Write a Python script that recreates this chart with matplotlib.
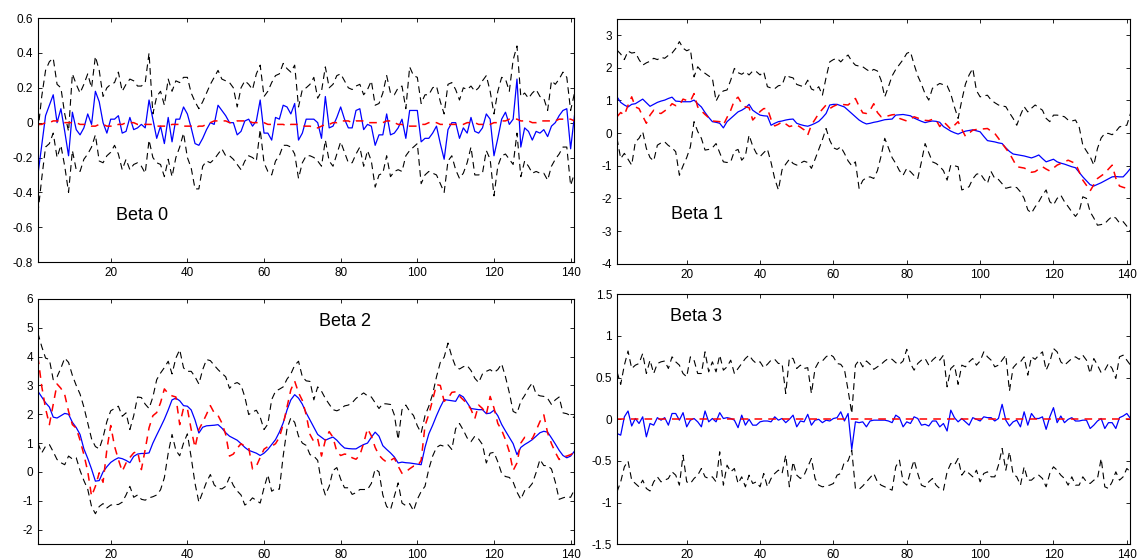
import numpy as np
import matplotlib
matplotlib.use("Agg")
import matplotlib.pyplot as plt
from matplotlib.ticker import FuncFormatter

plt.rcParams['font.family'] = ['Liberation Sans', 'DejaVu Sans']
plt.rcParams['axes.unicode_minus'] = False

# ---- Beta 0 ----
b0_mid = [-0.30, -0.13, 0.04, 0.10, 0.16, 0.00, 0.08, -0.05, -0.19, 0.06,
          -0.04, -0.07, -0.03, 0.05, -0.01, 0.18, 0.12, 0.00, -0.06, 0.02,
          0.02, 0.04, -0.06, -0.05, 0.03, -0.04, -0.03, -0.01, -0.03, 0.13,
          0.02, -0.09, -0.02, -0.12, 0.03, -0.11, 0.02, 0.02, 0.09, 0.05,
          -0.03, -0.12, -0.13, -0.09, -0.04, 0.00, -0.01, 0.10, 0.07, 0.04,
          0.00, 0.00, -0.07, -0.05, 0.01, 0.02, -0.02, 0.01, 0.13, -0.06,
          -0.06, -0.10, 0.03, 0.02, 0.10, 0.09, 0.05, 0.11, -0.10, -0.06,
          0.02, 0.02, 0.02, 0.00, -0.09, 0.15, -0.03, -0.02, 0.03, 0.09,
          0.02, -0.03, -0.03, 0.07, 0.08, -0.04, -0.01, -0.02, -0.13, -0.07,
          -0.07, 0.05, -0.07, -0.06, -0.03, 0.02, -0.09, 0.07, 0.07, 0.07,
          -0.11, -0.09, -0.09, -0.06, -0.02, -0.12, -0.21, -0.04, 0.00, 0.00,
          -0.09, -0.03, -0.06, 0.03, -0.05, -0.06, -0.03, 0.05, 0.02, -0.19,
          -0.09, 0.02, 0.06, -0.01, 0.02, 0.25, -0.14, -0.03, -0.05, -0.10,
          -0.05, -0.06, -0.04, -0.08, -0.02, 0.00, 0.04, 0.07, 0.08, -0.15,
          0.04]
b0_true = [-0.01, -0.01, 0.00, 0.00, 0.01, 0.01, 0.01, 0.00, 0.00, 0.00,
           0.00, -0.01, -0.01, -0.01, -0.02, -0.02, -0.01, -0.01, -0.02, -0.02,
           -0.02, -0.01, -0.01, 0.00, 0.00, 0.00, -0.01, -0.01, -0.01, -0.01,
           -0.01, -0.02, -0.02, -0.02, -0.02, -0.01, -0.01, -0.01, -0.02, -0.02,
           -0.02, -0.03, -0.02, -0.02, -0.01, 0.00, 0.01, 0.01, 0.01, 0.01,
           0.00, 0.00, 0.01, 0.01, 0.01, 0.01, 0.00, 0.00, 0.00, 0.00,
           -0.01, -0.01, -0.01, -0.01, -0.01, -0.02, -0.01, -0.01, -0.01, -0.02,
           -0.02, -0.02, -0.03, -0.03, -0.02, -0.01, -0.01, 0.00, 0.00, 0.01,
           0.01, 0.01, 0.00, 0.01, 0.01, 0.01, 0.00, 0.00, 0.00, 0.00,
           0.00, 0.01, 0.01, 0.00, -0.01, -0.01, -0.02, -0.02, -0.02, -0.02,
           -0.01, -0.01, 0.00, 0.00, 0.00, -0.01, -0.01, -0.01, -0.01, -0.01,
           -0.01, -0.01, 0.00, 0.00, 0.00, -0.01, -0.01, -0.01, -0.01, 0.00,
           0.00, 0.01, 0.01, 0.02, 0.02, 0.02, 0.01, 0.01, 0.01, 0.00,
           0.00, 0.01, 0.01, 0.01, 0.01, 0.01, 0.02, 0.02, 0.02, 0.02,
           0.01]
b0_hi = [-0.05, 0.15, 0.30, 0.35, 0.37, 0.22, 0.20, 0.05, -0.05, 0.28,
         0.22, 0.17, 0.22, 0.28, 0.20, 0.38, 0.30, 0.15, 0.20, 0.22,
         0.23, 0.29, 0.18, 0.22, 0.25, 0.24, 0.21, 0.21, 0.23, 0.40,
         0.05, 0.15, 0.18, 0.10, 0.25, 0.18, 0.24, 0.23, 0.26, 0.26,
         0.17, 0.12, 0.08, 0.12, 0.17, 0.22, 0.26, 0.30, 0.25, 0.24,
         0.23, 0.20, 0.09, 0.20, 0.24, 0.22, 0.19, 0.28, 0.33, 0.15,
         0.18, 0.23, 0.27, 0.28, 0.34, 0.31, 0.29, 0.33, 0.09, 0.19,
         0.20, 0.22, 0.26, 0.14, 0.18, 0.32, 0.20, 0.22, 0.27, 0.28,
         0.24, 0.20, 0.19, 0.21, 0.22, 0.16, 0.19, 0.24, 0.10, 0.11,
         0.17, 0.27, 0.17, 0.16, 0.20, 0.21, 0.08, 0.32, 0.27, 0.26,
         0.11, 0.16, 0.16, 0.20, 0.21, 0.12, 0.05, 0.22, 0.23, 0.19,
         0.13, 0.20, 0.19, 0.21, 0.18, 0.20, 0.24, 0.27, 0.18, 0.05,
         0.18, 0.26, 0.25, 0.18, 0.36, 0.44, 0.15, 0.17, 0.14, 0.17,
         0.19, 0.15, 0.14, 0.07, 0.24, 0.22, 0.25, 0.29, 0.26, 0.07,
         0.17]
b0_lo = [-0.52, -0.32, -0.14, -0.12, -0.06, -0.20, -0.13, -0.25, -0.40, -0.16,
         -0.27, -0.28, -0.21, -0.18, -0.14, -0.07, -0.22, -0.23, -0.19, -0.17,
         -0.13, -0.18, -0.27, -0.21, -0.27, -0.24, -0.23, -0.25, -0.29, -0.10,
         -0.20, -0.23, -0.24, -0.31, -0.21, -0.31, -0.20, -0.14, -0.06, -0.20,
         -0.26, -0.38, -0.38, -0.25, -0.22, -0.23, -0.21, -0.18, -0.15, -0.19,
         -0.19, -0.21, -0.24, -0.27, -0.22, -0.19, -0.20, -0.22, -0.04, -0.23,
         -0.28, -0.30, -0.22, -0.19, -0.13, -0.13, -0.14, -0.18, -0.32, -0.23,
         -0.19, -0.19, -0.20, -0.22, -0.25, -0.10, -0.22, -0.25, -0.18, -0.11,
         -0.17, -0.23, -0.23, -0.18, -0.14, -0.25, -0.16, -0.22, -0.37, -0.30,
         -0.29, -0.19, -0.31, -0.28, -0.27, -0.28, -0.19, -0.16, -0.14, -0.12,
         -0.35, -0.30, -0.28, -0.29, -0.30, -0.35, -0.40, -0.22, -0.19, -0.27,
         -0.32, -0.29, -0.23, -0.14, -0.30, -0.30, -0.29, -0.16, -0.21, -0.42,
         -0.25, -0.19, -0.18, -0.21, -0.24, -0.06, -0.31, -0.22, -0.25, -0.29,
         -0.28, -0.29, -0.29, -0.33, -0.25, -0.21, -0.18, -0.14, -0.14, -0.36,
         -0.29]

# ---- Beta 1 ----
b1_mid = [1.11, 0.94, 0.86, 0.80, 0.88, 0.90, 0.97, 1.04, 0.93, 0.82,
          0.88, 0.94, 0.98, 1.01, 1.06, 1.10, 0.98, 0.97, 0.96, 0.96,
          0.96, 1.01, 0.90, 0.80, 0.63, 0.48, 0.35, 0.33, 0.30, 0.16,
          0.35, 0.45, 0.55, 0.65, 0.70, 0.77, 0.88, 0.70, 0.62, 0.55,
          0.53, 0.52, 0.24, 0.30, 0.35, 0.37, 0.40, 0.42, 0.43, 0.30,
          0.26, 0.23, 0.21, 0.25, 0.30, 0.36, 0.47, 0.60, 0.86, 0.88,
          0.88, 0.84, 0.80, 0.70, 0.60, 0.50, 0.40, 0.33, 0.28, 0.30,
          0.33, 0.35, 0.38, 0.41, 0.42, 0.43, 0.55, 0.56, 0.57, 0.55,
          0.53, 0.46, 0.41, 0.36, 0.32, 0.35, 0.37, 0.36, 0.33, 0.20,
          0.13, 0.06, 0.01, -0.03, 0.02, 0.06, 0.08, 0.10, 0.07, 0.04,
          -0.10, -0.23, -0.25, -0.27, -0.30, -0.32, -0.45, -0.56, -0.64, -0.66,
          -0.68, -0.70, -0.73, -0.76, -0.72, -0.67, -0.78, -0.88, -0.84, -0.80,
          -0.88, -0.92, -0.95, -0.99, -1.03, -1.06, -1.20, -1.34, -1.46, -1.58,
          -1.62, -1.57, -1.52, -1.46, -1.40, -1.34, -1.33, -1.34, -1.34, -1.22,
          -1.08]
b1_true = [0.50, 0.63, 0.55, 0.85, 1.11, 0.80, 0.75, 0.52, 0.30, 0.55,
           0.70, 0.62, 0.60, 0.68, 0.76, 0.90, 0.84, 0.85, 1.04, 1.00,
           0.98, 1.21, 0.80, 0.68, 0.57, 0.47, 0.37, 0.36, 0.35, 0.25,
           0.48, 0.70, 1.00, 1.10, 0.90, 0.80, 0.78, 0.40, 0.52, 0.66,
           0.75, 0.75, 0.42, 0.22, 0.27, 0.35, 0.28, 0.20, 0.23, 0.25,
           0.18, 0.10, -0.06, 0.25, 0.42, 0.60, 0.73, 0.86, 0.75, 0.82,
           0.87, 0.88, 0.87, 0.86, 0.96, 1.06, 0.82, 0.62, 0.60, 0.70,
           0.90, 0.63, 0.50, 0.50, 0.53, 0.56, 0.57, 0.45, 0.41, 0.37,
           0.43, 0.50, 0.46, 0.42, 0.39, 0.38, 0.42, 0.40, 0.20, 0.35,
           0.24, 0.12, 0.24, 0.35, 0.12, -0.10, 0.00, 0.09, 0.11, 0.12,
           0.13, 0.14, 0.06, -0.01, -0.16, -0.32, -0.47, -0.62, -0.82, -1.03,
           -1.05, -1.07, -1.12, -1.20, -1.18, -1.10, -1.03, -1.10, -1.16, -1.07,
           -0.98, -0.93, -0.88, -0.83, -0.88, -0.93, -1.18, -1.44, -1.60, -1.77,
           -1.58, -1.39, -1.31, -1.23, -1.10, -0.98, -1.38, -1.62, -1.66, -1.69,
           -1.74]
b1_hi = [2.54, 2.42, 2.25, 2.51, 2.45, 2.47, 2.25, 2.08, 2.15, 2.20,
         2.29, 2.25, 2.32, 2.29, 2.38, 2.45, 2.59, 2.80, 2.60, 2.52,
         2.57, 1.72, 2.03, 1.90, 1.83, 1.75, 1.68, 0.98, 1.20, 1.29,
         1.32, 1.62, 1.98, 1.85, 1.80, 1.88, 1.78, 1.90, 1.88, 1.78,
         1.88, 1.42, 1.38, 1.36, 1.45, 1.47, 1.78, 1.72, 1.69, 1.49,
         1.45, 1.42, 1.62, 1.35, 1.30, 1.42, 1.16, 1.70, 2.18, 2.25,
         2.29, 2.18, 2.30, 2.39, 2.20, 2.08, 2.05, 2.03, 1.95, 1.88,
         1.95, 1.90, 1.62, 1.11, 1.42, 1.75, 1.95, 2.10, 2.25, 2.44,
         2.49, 2.10, 1.75, 1.50, 1.20, 1.01, 1.37, 1.45, 1.52, 1.48,
         1.45, 1.20, 0.80, 0.45, 1.00, 1.50, 1.78, 1.98, 1.30, 1.11,
         1.14, 1.16, 1.01, 0.93, 0.86, 0.83, 0.81, 0.62, 0.45, 0.24,
         0.55, 0.81, 0.65, 0.76, 0.86, 0.78, 0.70, 0.45, 0.35, 0.55,
         0.55, 0.53, 0.50, 0.40, 0.37, 0.40, 0.19, -0.37, -0.55, -0.72,
         -0.98, -0.47, -0.15, -0.01, -0.01, -0.05, 0.05, 0.19, 0.22, 0.24,
         0.60]
b1_lo = [-0.16, -0.78, -0.62, -0.80, -0.98, -0.27, -0.16, 0.04, -0.47, -0.75,
         -0.85, -0.37, -0.30, -0.27, -0.38, -0.45, -0.57, -1.29, -1.00, -0.75,
         -0.42, 0.35, 0.05, -0.16, -0.52, -0.50, -0.45, -0.32, -0.60, -0.88,
         -0.90, -0.88, -0.55, -0.50, -0.83, -0.70, -0.06, -0.40, -0.62, -0.72,
         -0.60, -0.49, -0.90, -1.40, -1.74, -1.12, -0.95, -0.80, -0.93, -0.98,
         -0.92, -0.86, -0.90, -1.08, -0.80, -0.50, -0.20, 0.14, -0.22, -0.45,
         -0.50, -0.42, -0.62, -0.85, -1.00, -0.88, -1.69, -1.45, -1.36, -1.34,
         -1.39, -1.15, -0.70, -0.16, -0.45, -0.75, -0.93, -1.15, -1.29, -1.08,
         -1.18, -1.30, -1.39, -0.88, -0.32, -0.60, -0.88, -0.93, -1.02, -1.15,
         -1.44, -0.98, -1.00, -1.03, -1.74, -1.70, -1.64, -1.40, -1.26, -1.23,
         -1.40, -1.54, -1.18, -1.39, -1.42, -1.55, -1.69, -1.66, -1.64, -1.67,
         -1.80, -2.00, -2.35, -2.45, -2.26, -2.10, -1.90, -1.74, -2.10, -2.20,
         -2.00, -1.90, -2.10, -2.25, -2.41, -2.55, -2.40, -1.95, -2.00, -2.41,
         -2.60, -2.82, -2.80, -2.77, -2.65, -2.55, -2.60, -2.75, -2.71, -2.85,
         -3.02]

# ---- Beta 2 ----
b2_mid = [2.80, 2.60, 2.40, 2.25, 1.90, 1.87, 1.95, 2.03, 2.00, 1.72,
          1.54, 1.30, 0.80, 0.47, 0.10, -0.32, -0.30, 0.00, 0.18, 0.33,
          0.42, 0.49, 0.46, 0.40, 0.32, 0.54, 0.62, 0.64, 0.64, 0.66,
          1.00, 1.28, 1.55, 1.83, 2.15, 2.50, 2.56, 2.47, 2.30, 2.28,
          2.15, 1.80, 1.35, 1.55, 1.60, 1.61, 1.62, 1.64, 1.52, 1.36,
          1.24, 1.17, 1.10, 0.98, 0.85, 0.75, 0.70, 0.65, 0.57, 0.65,
          0.78, 0.95, 1.12, 1.38, 1.70, 2.15, 2.50, 2.68, 2.56, 2.35,
          2.05, 1.80, 1.55, 1.30, 1.20, 1.10, 1.16, 1.21, 1.10, 0.95,
          0.83, 0.81, 0.80, 0.80, 0.88, 0.95, 1.00, 1.20, 1.38, 1.24,
          0.91, 0.78, 0.66, 0.52, 0.31, 0.34, 0.32, 0.31, 0.29, 0.27,
          0.25, 0.85, 1.32, 1.62, 1.95, 2.25, 2.51, 2.49, 2.47, 2.45,
          2.68, 2.60, 2.40, 2.20, 2.18, 2.16, 2.16, 2.02, 2.04, 2.14,
          1.95, 1.65, 1.42, 1.20, 0.98, 0.60, 0.85, 0.95, 1.03, 1.12,
          1.24, 1.36, 1.41, 1.38, 1.18, 0.97, 0.75, 0.57, 0.49, 0.55,
          0.72]
b2_true = [4.00, 2.97, 2.20, 1.64, 2.34, 3.05, 2.90, 2.68, 2.10, 1.64,
           1.52, 1.10, 0.60, 0.02, -0.84, -0.50, -0.03, -0.36, 0.78, 1.61,
           0.89, 0.43, 0.02, 0.31, 0.50, 0.66, 0.72, 0.08, 0.78, 1.53,
           1.95, 2.06, 2.40, 2.88, 2.72, 2.64, 2.60, 1.64, 2.22, 2.20,
           1.47, 0.85, 1.47, 1.72, 2.00, 2.30, 2.05, 1.96, 1.70, 1.30,
           0.55, 0.62, 0.82, 0.98, 0.89, 0.85, 0.10, 0.20, 0.50, 0.79,
           0.88, 0.89, 0.98, 1.20, 1.65, 2.25, 2.85, 3.15, 2.75, 2.48,
           1.98, 1.30, 1.05, 1.15, 0.55, 1.10, 1.40, 1.20, 0.70, 0.57,
           0.62, 0.60, 0.49, 0.44, 0.58, 1.00, 1.50, 1.25, 0.85, 0.58,
           0.44, 0.34, 0.40, 0.48, 0.20, -0.05, 0.00, 0.11, 0.20, 0.20,
           0.40, 1.60, 2.00, 2.50, 3.03, 3.00, 2.45, 2.55, 2.76, 2.78,
           2.63, 2.50, 2.37, 2.17, 1.85, 2.32, 2.20, 1.99, 2.62, 2.22,
           1.68, 1.45, 1.12, 0.70, 0.05, 0.31, 1.00, 1.20, 1.18, 1.15,
           1.44, 1.75, 1.98, 1.35, 0.98, 0.68, 0.43, 0.53, 0.55, 0.60,
           0.68]
b2_hi = [4.82, 4.35, 3.95, 3.90, 3.20, 3.30, 3.60, 3.95, 3.80, 3.35,
         3.00, 2.70, 2.25, 1.70, 1.15, 0.88, 0.80, 1.20, 1.75, 2.12,
         2.20, 2.28, 1.93, 2.05, 1.47, 1.95, 2.60, 2.58, 2.35, 2.20,
         2.60, 3.20, 3.43, 3.62, 3.84, 3.40, 3.95, 4.24, 3.61, 3.49,
         3.49, 3.30, 3.05, 3.55, 3.90, 3.86, 3.70, 3.55, 3.42, 3.30,
         2.90, 3.05, 3.10, 3.01, 2.60, 1.99, 2.08, 2.14, 1.90, 1.47,
         1.66, 2.51, 2.80, 2.87, 2.95, 3.22, 3.40, 3.70, 3.84, 3.30,
         3.16, 3.14, 2.50, 2.95, 2.80, 2.55, 2.35, 2.16, 2.12, 2.18,
         2.29, 2.32, 2.40, 2.55, 2.65, 2.74, 2.64, 2.60, 2.40, 2.20,
         2.37, 2.36, 2.34, 1.98, 1.12, 2.16, 2.32, 2.10, 1.96, 1.60,
         1.35, 1.95, 2.28, 2.70, 3.30, 3.80, 3.98, 4.47, 4.00, 3.65,
         3.57, 3.65, 3.69, 3.52, 3.25, 3.10, 3.40, 3.49, 3.55, 3.45,
         3.55, 3.75, 3.30, 2.75, 2.10, 2.03, 2.45, 2.65, 2.90, 3.09,
         2.70, 2.64, 2.62, 2.55, 2.34, 2.50, 2.60, 2.05, 2.02, 1.95,
         1.88]
b2_lo = [1.00, 0.66, 0.89, 0.95, 0.70, 0.43, 0.32, 0.25, 0.55, 0.45,
         0.49, 0.05, -0.30, -0.60, -1.20, -1.45, -1.20, -1.10, -1.25, -1.15,
         -1.13, -1.13, -1.05, -0.80, -0.50, -0.88, -0.80, -0.95, -0.98, -0.90,
         -0.86, -0.80, -0.62, -0.20, 0.65, 1.30, 0.75, 0.56, 1.00, 1.32,
         0.50, -0.40, -1.05, -0.70, -0.35, -0.09, -0.45, -0.57, -0.59, -0.50,
         -0.18, -0.47, -0.66, -0.80, -1.15, -1.05, -0.90, -0.99, -1.08, -0.55,
         -0.10, -0.67, -0.58, -0.60, 0.55, 1.50, 1.88, 1.72, 1.24, 1.00,
         0.92, 0.60, 0.55, 0.40, -0.38, -0.80, -0.50, 0.05, 0.15, -0.25,
         -0.55, -0.55, -0.78, -0.72, -0.61, -0.61, -0.61, -0.40, 0.10, 0.00,
         -0.80, -1.20, -1.31, -0.85, -0.38, -1.08, -1.17, -1.10, -1.35, -0.95,
         -0.68, -0.50, 0.10, 0.55, 0.85, 0.93, 0.89, 0.94, 0.78, 1.50,
         1.68, 1.45, 1.18, 1.05, 1.24, 1.14, 0.95, 0.31, 0.65, 0.68,
         0.35, -0.05, -0.16, -0.19, -0.35, -0.70, -0.95, -0.65, -0.57, -0.40,
         -0.02, 0.43, 0.22, 0.22, 0.10, -0.35, -0.95, -0.90, -0.86, -0.88,
         -0.61]

# ---- Beta 3 ----
b3_mid = [-0.17, -0.19, 0.03, 0.10, -0.08, 0.01, -0.05, 0.03, -0.21, -0.05,
          -0.07, 0.02, -0.01, 0.02, -0.07, 0.07, 0.07, -0.01, 0.08, -0.09,
          -0.01, 0.01, -0.03, -0.09, 0.10, -0.03, 0.01, -0.03, 0.08, 0.01,
          0.02, 0.01, -0.01, -0.10, 0.05, -0.07, 0.00, -0.07, -0.07, -0.03,
          -0.02, -0.02, -0.03, 0.03, -0.01, 0.01, -0.04, 0.00, 0.05, -0.09,
          -0.02, -0.03, 0.06, -0.07, -0.01, 0.00, -0.04, -0.01, -0.02, 0.01,
          0.02, 0.09, -0.02, 0.07, -0.36, -0.03, -0.04, -0.03, -0.09, -0.02,
          -0.01, -0.01, -0.01, -0.01, -0.02, -0.04, 0.05, 0.02, -0.09, -0.03,
          -0.05, 0.03, 0.01, -0.07, -0.06, -0.08, -0.02, -0.02, -0.09, -0.05,
          -0.14, 0.11, 0.02, -0.03, 0.01, -0.03, -0.07, 0.02, 0.00, -0.02,
          0.03, 0.02, 0.02, -0.02, 0.01, 0.18, -0.01, -0.08, -0.03, -0.01,
          -0.09, 0.09, -0.07, 0.07, 0.01, 0.01, 0.03, -0.12, 0.03, 0.14,
          -0.04, 0.04, -0.04, 0.00, 0.02, -0.02, -0.02, -0.01, -0.01, -0.11,
          -0.07, -0.02, 0.01, -0.11, -0.04, -0.04, -0.11, 0.02, 0.04, 0.07,
          0.01]
b3_true = [0.00, 0.00, 0.00, 0.00, 0.00, 0.00, 0.00, 0.00, 0.00, 0.00,
           0.00, 0.00, 0.00, 0.00, 0.00, 0.00, 0.00, 0.00, 0.00, 0.00,
           0.00, 0.00, 0.00, 0.00, 0.00, 0.00, 0.00, 0.00, 0.00, 0.00,
           0.00, 0.00, 0.00, 0.00, 0.00, 0.00, 0.00, 0.00, 0.00, 0.00,
           0.00, 0.00, 0.00, 0.00, 0.00, 0.00, 0.00, 0.00, 0.00, 0.00,
           0.00, 0.00, 0.00, 0.00, 0.00, 0.00, 0.00, 0.00, 0.00, 0.00,
           0.00, 0.00, 0.00, 0.00, 0.00, 0.00, 0.00, 0.00, 0.00, 0.00,
           0.00, 0.00, 0.00, 0.00, 0.00, 0.00, 0.00, 0.00, 0.00, 0.00,
           0.00, 0.00, 0.00, 0.00, 0.00, 0.00, 0.00, 0.00, 0.00, 0.00,
           0.00, 0.00, 0.00, 0.00, 0.00, 0.00, 0.00, 0.00, 0.00, 0.00,
           0.00, 0.00, 0.00, 0.00, 0.00, 0.00, 0.00, 0.00, 0.00, 0.00,
           0.00, 0.00, 0.00, 0.00, 0.00, 0.00, 0.00, 0.00, 0.00, 0.00,
           0.00, 0.00, 0.00, 0.00, 0.00, 0.00, 0.00, 0.00, 0.00, 0.00,
           0.00, 0.00, 0.00, 0.00, 0.00, 0.00, 0.00, 0.00, 0.00, 0.00,
           0.00]
b3_hi = [0.57, 0.42, 0.65, 0.82, 0.61, 0.65, 0.67, 0.79, 0.55, 0.71,
         0.55, 0.67, 0.69, 0.70, 0.61, 0.75, 0.69, 0.65, 0.55, 0.51,
         0.75, 0.71, 0.55, 0.55, 0.81, 0.57, 0.69, 0.57, 0.77, 0.59,
         0.63, 0.71, 0.55, 0.61, 0.67, 0.73, 0.77, 0.71, 0.67, 0.69,
         0.62, 0.66, 0.71, 0.72, 0.67, 0.67, 0.31, 0.74, 0.73, 0.61,
         0.65, 0.61, 0.62, 0.31, 0.61, 0.69, 0.70, 0.75, 0.78, 0.75,
         0.67, 0.66, 0.60, 0.35, 0.07, 0.65, 0.71, 0.63, 0.70, 0.66,
         0.60, 0.63, 0.66, 0.70, 0.73, 0.72, 0.68, 0.66, 0.70, 0.84,
         0.67, 0.59, 0.67, 0.71, 0.73, 0.65, 0.71, 0.75, 0.71, 0.77,
         0.39, 0.61, 0.65, 0.42, 0.65, 0.63, 0.69, 0.73, 0.65, 0.70,
         0.81, 0.75, 0.71, 0.63, 0.65, 0.71, 0.77, 0.34, 0.62, 0.67,
         0.69, 0.75, 0.53, 0.75, 0.72, 0.77, 0.81, 0.59, 0.69, 0.85,
         0.81, 0.69, 0.65, 0.69, 0.73, 0.75, 0.72, 0.77, 0.71, 0.55,
         0.73, 0.65, 0.56, 0.59, 0.67, 0.61, 0.49, 0.75, 0.77, 0.71,
         0.65]
b3_lo = [-0.87, -0.75, -0.57, -0.50, -0.73, -0.77, -0.81, -0.73, -0.83, -0.86,
         -0.75, -0.69, -0.75, -0.73, -0.71, -0.63, -0.67, -0.79, -0.43, -0.75,
         -0.77, -0.71, -0.67, -0.59, -0.69, -0.71, -0.69, -0.75, -0.39, -0.79,
         -0.55, -0.63, -0.59, -0.77, -0.69, -0.81, -0.67, -0.77, -0.75, -0.81,
         -0.65, -0.81, -0.71, -0.65, -0.61, -0.65, -0.43, -0.81, -0.51, -0.67,
         -0.71, -0.67, -0.57, -0.47, -0.71, -0.79, -0.81, -0.80, -0.79, -0.77,
         -0.67, -0.65, -0.51, -0.50, -0.37, -0.83, -0.84, -0.80, -0.75, -0.70,
         -0.65, -0.75, -0.79, -0.81, -0.83, -0.85, -0.57, -0.49, -0.75, -0.79,
         -0.63, -0.49, -0.65, -0.79, -0.81, -0.75, -0.71, -0.79, -0.83, -0.85,
         -0.63, -0.53, -0.55, -0.47, -0.67, -0.61, -0.65, -0.69, -0.61, -0.75,
         -0.65, -0.63, -0.69, -0.69, -0.55, -0.35, -0.61, -0.39, -0.66, -0.69,
         -0.79, -0.57, -0.73, -0.73, -0.69, -0.67, -0.71, -0.81, -0.65, -0.57,
         -0.61, -0.67, -0.71, -0.79, -0.69, -0.79, -0.79, -0.69, -0.75, -0.77,
         -0.73, -0.71, -0.47, -0.81, -0.83, -0.75, -0.63, -0.73, -0.69, -0.59,
         -0.63]

panels = [
    ("Beta 0", b0_mid, b0_true, b0_hi, b0_lo, (-0.8, 0.6), np.arange(-0.8, 0.61, 0.2), (28.2, -0.53)),
    ("Beta 1", b1_mid, b1_true, b1_hi, b1_lo, (-4, 3.5), np.arange(-4, 3.1, 1), (22.8, -2.48)),
    ("Beta 2", b2_mid, b2_true, b2_hi, b2_lo, (-2.5, 6), np.arange(-2, 6.1, 1), (81.1, 5.21)),
    ("Beta 3", b3_mid, b3_true, b3_hi, b3_lo, (-1.5, 1.5), np.arange(-1.5, 1.51, 0.5), (22.5, 1.24)),
]

# axes rectangles in figure fractions
rects = [
    [0.0333, 0.532, 0.4715, 0.4357],
    [0.5422, 0.529, 0.4512, 0.4375],
    [0.0333, 0.0286, 0.4715, 0.4375],
    [0.5422, 0.0280, 0.4512, 0.4464],
]

# plain labels: 0 instead of -0 or 0.0
fmt = FuncFormatter(lambda v, _: f"{round(v, 6) + 0.0:g}")
dash = (0, (6, 4))

fig = plt.figure(figsize=(11.38, 5.6), dpi=100)
for (name, mid, true, hi, lo, ylim, yt, tpos), rect in zip(panels, rects):
    ax = fig.add_axes(rect)
    ax.plot(np.arange(1, len(hi) + 1), hi, color="black", ls=dash, lw=0.8)
    ax.plot(np.arange(1, len(lo) + 1), lo, color="black", ls=dash, lw=0.8)
    ax.plot(np.arange(1, len(mid) + 1), mid, color="#0000ff", lw=0.9)
    ax.plot(np.arange(1, len(true) + 1), true, color="#ff0000", ls=(0, (5, 4)), lw=1.1)
    ax.set_xlim(1, 141)
    ax.set_ylim(*ylim)
    ax.set_xticks(np.arange(20, 141, 20))
    ax.set_yticks(yt)
    ax.yaxis.set_major_formatter(fmt)
    ax.tick_params(direction="in", top=True, right=True, labelsize=8.5, length=3, width=0.6)
    for s in ax.spines.values():
        s.set_linewidth(0.8)
    ax.text(tpos[0], tpos[1], name, fontsize=13, ha="center", va="center")

fig.savefig("out.png", dpi=100)
